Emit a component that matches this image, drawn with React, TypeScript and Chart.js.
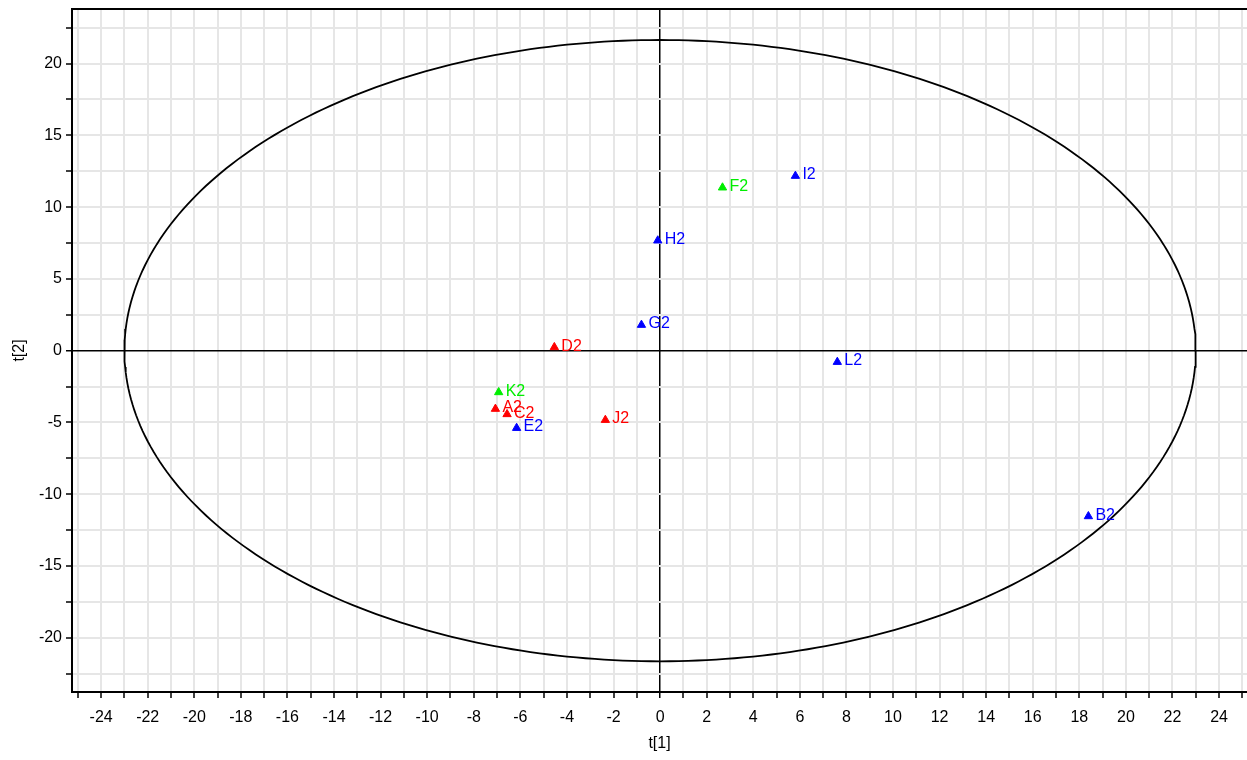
import React, { useEffect, useRef } from 'react';
import { Chart, registerables } from 'chart.js';

Chart.register(...registerables);

// ---- data ----
const sampleNames = ['A2', 'B2', 'C2', 'D2', 'E2', 'F2', 'G2', 'H2', 'I2', 'J2', 'K2', 'L2'];
const t1Values = [-7.07, 18.39, -6.57, -4.54, -6.16, 2.68, -0.8, -0.1, 5.81, -2.35, -6.93, 7.61];
const t2Values = [-4.06, -11.54, -4.43, 0.24, -5.39, 11.36, 1.79, 7.67, 12.17, -4.83, -2.9, -0.79];
const sampleClass = ['red', 'blue', 'red', 'red', 'blue', 'green', 'blue', 'blue', 'blue', 'red', 'green', 'blue'];
const classColors: Record<string, string> = { red: '#ff0000', blue: '#0000ff', green: '#00ee00' };

// Hotelling T2 ellipse semi-axes
const ellipseT1Radius = 23.0;
const ellipseT2Radius = 21.64;

const xRange = [-25.25, 25.2];
const yRange = [-23.78, 23.8];
const xStep = 1;
const xLabelEvery = 2;
const yStep = 2.5;
const yLabelEvery = 5;

const FONT = 'Arial, "Liberation Sans", sans-serif';

export default function App() {
  const ref = useRef<HTMLCanvasElement>(null);

  useEffect(() => {
    if (!ref.current) return;

    const ellipse: { x: number; y: number }[] = [];
    for (let i = 0; i <= 360; i++) {
      const a = (i * Math.PI) / 180;
      ellipse.push({ x: ellipseT1Radius * Math.cos(a), y: ellipseT2Radius * Math.sin(a) });
    }

    const points = sampleNames.map((_, i) => ({ x: t1Values[i], y: t2Values[i] }));
    const colors = sampleClass.map((c) => classColors[c]);

    const pointLabels = {
      id: 'pointLabels',
      afterDatasetsDraw(chart: any) {
        const ctx = chart.ctx;
        const meta = chart.getDatasetMeta(1);
        ctx.save();
        ctx.font = `16px ${FONT}`;
        ctx.textBaseline = 'middle';
        ctx.textAlign = 'left';
        meta.data.forEach((el: any, i: number) => {
          ctx.fillStyle = colors[i];
          ctx.fillText(sampleNames[i], el.x + 7, el.y - 1);
        });
        ctx.restore();
      },
    };

    const topBorder = {
      id: 'topBorder',
      afterDraw(chart: any) {
        const { ctx, chartArea } = chart;
        ctx.save();
        ctx.strokeStyle = '#000';
        ctx.lineWidth = 2;
        ctx.beginPath();
        ctx.moveTo(chartArea.left, chartArea.top);
        ctx.lineTo(chartArea.right, chartArea.top);
        ctx.stroke();
        ctx.restore();
      },
    };

    const chart = new Chart(ref.current, {
      type: 'scatter',
      data: {
        datasets: [
          {
            type: 'line',
            data: ellipse,
            borderColor: '#000',
            borderWidth: 1.8,
            pointRadius: 0,
            fill: false,
            tension: 0,
          } as any,
          {
            data: points,
            pointStyle: 'triangle',
            pointRadius: 4.8,
            pointBackgroundColor: colors,
            pointBorderColor: colors,
            pointBorderWidth: 1,
          },
        ],
      },
      options: {
        responsive: false,
        animation: false,
        layout: { autoPadding: false, padding: { top: 9, right: 0, left: 0, bottom: 0 } },
        plugins: { legend: { display: false }, tooltip: { enabled: false } },
        scales: {
          x: {
            type: 'linear',
            min: xRange[0],
            max: xRange[1],
            afterFit: (s: any) => {
              s.height = 68;
              s.paddingLeft = 0;
              s.paddingRight = 0;
            },
            ticks: {
              stepSize: xStep,
              includeBounds: false,
              autoSkip: false,
              maxRotation: 0,
              color: '#000',
              font: { family: FONT, size: 16 },
              padding: 10,
              callback: (v: any) => (Math.abs(v % xLabelEvery) < 1e-6 ? String(v) : ''),
            },
            grid: {
              color: (c: any) => (c.tick && c.tick.value === 0 ? '#000' : '#e6e6e6'),
              lineWidth: (c: any) => (c.tick && c.tick.value === 0 ? 1.5 : 2),
              tickColor: '#000',
              tickLength: 6,
              tickWidth: 1.5,
            },
            border: { color: '#000', width: 2 },
            title: {
              display: true,
              text: 't[1]',
              color: '#000',
              font: { family: FONT, size: 16 },
              padding: { top: 4, bottom: 7 },
            },
          },
          y: {
            type: 'linear',
            min: yRange[0],
            max: yRange[1],
            afterFit: (s: any) => {
              s.width = 72;
              s.paddingTop = 0;
              s.paddingBottom = 0;
            },
            ticks: {
              stepSize: yStep,
              includeBounds: false,
              autoSkip: false,
              color: '#000',
              font: { family: FONT, size: 16 },
              padding: 4,
              callback: (v: any) => (Math.abs(v % yLabelEvery) < 1e-6 ? String(v) : ''),
            },
            grid: {
              color: (c: any) => (c.tick && c.tick.value === 0 ? '#000' : '#e6e6e6'),
              lineWidth: (c: any) => (c.tick && c.tick.value === 0 ? 1.5 : 2),
              tickColor: '#000',
              tickLength: 6,
              tickWidth: 1.5,
            },
            border: { color: '#000', width: 2 },
            title: {
              display: true,
              text: 't[2]',
              color: '#000',
              font: { family: FONT, size: 16 },
              padding: { top: 10, bottom: 4 },
            },
          },
        },
      },
      plugins: [pointLabels, topBorder],
    });

    return () => chart.destroy();
  }, []);

  return (
    <div style={{ position: 'fixed', left: 0, top: 0, width: 1247, height: 760, background: '#fff' }}>
      <canvas ref={ref} width={1247} height={760} />
    </div>
  );
}
